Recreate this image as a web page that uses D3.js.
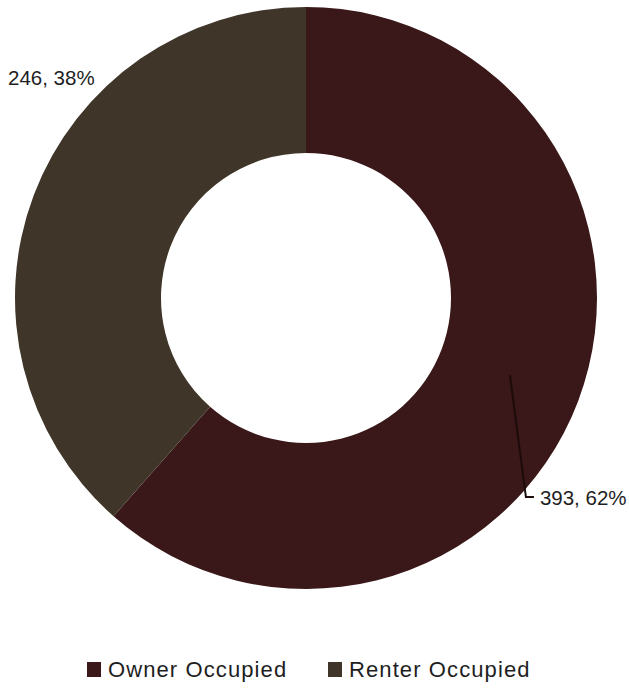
<!DOCTYPE html>
<html>
<head>
<meta charset="utf-8">
<script src="https://cdn.jsdelivr.net/npm/d3@7"></script>
<style>
  html, body { margin: 0; padding: 0; background: #fff; }
  svg { display: block; }
  text { font-family: "Liberation Sans", Arial, sans-serif; fill: #1e1e1e; }
</style>
</head>
<body>
<svg id="chart" width="629" height="689"></svg>
<script>
// Housing tenure counts
const categories = ["Owner Occupied", "Renter Occupied"];
const values = [393, 246];
const colors = ["#3a1718", "#3f3528"];

const svg = d3.select("#chart");
const cx = 306, cy = 298, outerR = 291, innerR = 145;

const total = d3.sum(values);
const data = categories.map((c, i) => ({ name: c, value: values[i], color: colors[i] }));

const pie = d3.pie().sort(null).value(d => d.value);
const arc = d3.arc().innerRadius(innerR).outerRadius(outerR);
const arcs = pie(data);

const g = svg.append("g").attr("transform", `translate(${cx},${cy})`);

g.selectAll("path.slice")
  .data(arcs)
  .join("path")
  .attr("class", "slice")
  .attr("d", arc)
  .attr("fill", d => d.data.color);

const labelText = d => `${d.data.value}, ${Math.round(d.data.value / total * 100)}%`;

// Owner label: leader line from slice centroid down to the label
const own = arcs[0];
const [ox, oy] = arc.centroid(own);
const elbow = [ox + 16, oy + 122];
g.append("polyline")
  .attr("points", [[ox, oy], elbow, [elbow[0] + 8, elbow[1]]].map(p => p.join(",")).join(" "))
  .attr("fill", "none")
  .attr("stroke", "#1c0b0b")
  .attr("stroke-width", 2);
g.append("text")
  .attr("x", elbow[0] + 14)
  .attr("y", elbow[1] + 8)
  .attr("font-size", 20.5)
  .text(labelText(own));

// Renter label, placed outside the ring at upper left
const ren = arcs[1];
svg.append("text")
  .attr("x", 8)
  .attr("y", 85)
  .attr("font-size", 20.5)
  .text(labelText(ren));

// Legend
const legend = svg.append("g").attr("transform", "translate(0,677)");
const legendX = [87, 328];
const items = legend.selectAll("g").data(data).join("g")
  .attr("transform", (d, i) => `translate(${legendX[i]},0)`);
items.append("rect")
  .attr("x", 0).attr("y", -15)
  .attr("width", 14).attr("height", 15)
  .attr("fill", d => d.color);
items.append("text")
  .attr("x", 21)
  .attr("y", 0)
  .attr("font-size", 22)
  .attr("letter-spacing", 1.1)
  .text(d => d.name);
</script>
</body>
</html>
